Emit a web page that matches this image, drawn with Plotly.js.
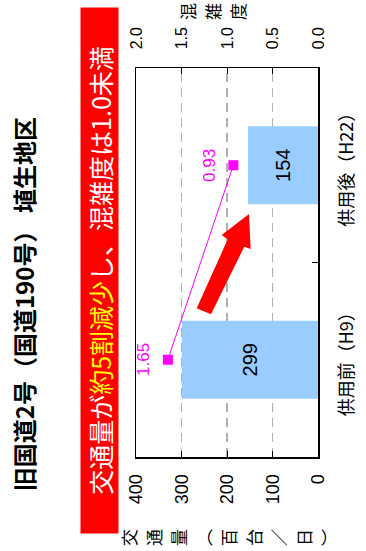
<!DOCTYPE html>
<html><head><meta charset="utf-8">
<script src="https://cdn.plot.ly/plotly-3.0.1.min.js"></script>
<style>
html,body{margin:0;padding:0;background:#fff;overflow:hidden;}
#wrap{position:relative;width:366px;height:551px;overflow:hidden;}
#chart{position:absolute;left:0;top:0;width:551px;height:366px;transform-origin:0 0;transform:translateY(551px) rotate(-90deg);}
</style></head><body>
<div id="wrap"><div id="chart"></div></div>
<script>
// ---- data ----
const categories = ['供用前（H9）', '供用後（H22）'];
const trafficValues = [299, 154];
const congestionValues = [1.65, 0.93];
const trafficTicks = [0, 100, 200, 300, 400];
const congestionTicks = [0, 0.5, 1.0, 1.5, 2.0];
const titleText = '旧国道2号（国道190号） 埴生地区';
const yTitleChars = ['交', '通', '量', '︵', '百', '台', '／', '日', '︶'];
const y2TitleChars = ['混', '雑', '度'];

const JP = 'Noto Sans CJK JP';
const NUM = 'Liberation Sans, Arial, sans-serif';

function vertical(chars, px) {
  return chars.map(c => "<span style='font-size:" + px + "px'>" + c + "</span>").join('<br>');
}

const bars = {
  type: 'bar',
  x: categories,
  y: trafficValues,
  width: 0.4,
  marker: {color: '#99CCFF', line: {width: 0}},
  text: trafficValues.map(String),
  textposition: 'inside',
  insidetextanchor: 'middle',
  textangle: 0,
  textfont: {family: NUM, size: 20, color: '#000'},
  hoverinfo: 'skip',
  cliponaxis: false
};

const line = {
  type: 'scatter',
  mode: 'lines+markers',
  x: categories,
  y: congestionValues,
  yaxis: 'y2',
  line: {color: '#FF00FF', width: 1},
  marker: {symbol: 'square', size: 10, color: '#FF00FF'},
  hoverinfo: 'skip',
  cliponaxis: false
};

const annotations = [];
congestionValues.forEach((v, i) => {
  annotations.push({
    x: categories[i], y: v, xref: 'x', yref: 'y2',
    text: v.toFixed(2), showarrow: false, yshift: 24,
    font: {family: NUM, size: 17, color: '#FF00FF'}
  });
});
// red message box
annotations.push({
  xref: 'paper', yref: 'paper', x: 0.4794, y: 1.2005,
  xanchor: 'center', yanchor: 'middle',
  width: 525, height: 37, bgcolor: '#FF0000', borderpad: 0,
  showarrow: false,
  text: "交通量が<span style='color:#FFFF00'>約5割減少</span>し、混雑度は1.0未満",
  font: {family: JP, size: 25, color: '#FFFFFF'}
});
// left axis title (vertical)
annotations.push({
  xref: 'paper', yref: 'paper', x: -0.2057, y: 0.49,
  xanchor: 'center', yanchor: 'middle', showarrow: false,
  text: vertical(yTitleChars, 17),
  font: {family: JP, size: 19.2, color: '#000'}
});
// right axis title (vertical)
annotations.push({
  xref: 'paper', yref: 'paper', x: 1.1465, y: 0.58,
  xanchor: 'center', yanchor: 'middle', showarrow: false,
  text: vertical(y2TitleChars, 17),
  font: {family: JP, size: 19.2, color: '#000'}
});

const arrowPath = 'M0.6247,0.379 L0.5707,0.529 L0.5596,0.496 L0.3823,0.6665 L0.3668,0.588 L0.5406,0.405 L0.5347,0.370 Z';

const layout = {
  width: 551, height: 366,
  margin: {l: 94, r: 68, t: 136, b: 48, pad: 0},
  paper_bgcolor: '#fff', plot_bgcolor: '#fff',
  showlegend: false,
  title: {
    text: titleText, x: 0.448, xanchor: 'center', y: 0.929, yanchor: 'middle',
    font: {family: JP, size: 24, color: '#000', weight: 'bold'}
  },
  xaxis: {
    type: 'category', range: [-0.5, 1.5],
    showline: true, linecolor: '#000', linewidth: 1.5, mirror: true,
    ticks: 'inside', ticklen: 6, tickcolor: '#000', tickson: 'boundaries',
    showgrid: false, ticklabelstandoff: 12,
    tickfont: {family: JP, size: 18, color: '#000'}
  },
  yaxis: {
    range: [0, 400], tickvals: trafficTicks, ticktext: trafficTicks.map(String),
    showline: true, linecolor: '#000', linewidth: 1.5, mirror: true,
    ticks: 'inside', ticklen: 6, tickcolor: '#000',
    showgrid: true, gridcolor: '#B0B0B0', gridwidth: 1.5, griddash: '9px,6px',
    zeroline: false, ticklabelstandoff: 12,
    tickfont: {family: NUM, size: 18, color: '#000'}
  },
  yaxis2: {
    range: [0, 2], overlaying: 'y', side: 'right',
    tickvals: congestionTicks, ticktext: congestionTicks.map(v => v.toFixed(1)),
    showline: true, linecolor: '#000', linewidth: 1.5,
    ticks: 'inside', ticklen: 6, tickcolor: '#000',
    showgrid: false, zeroline: false, ticklabelstandoff: 14,
    tickfont: {family: NUM, size: 16, color: '#000'}
  },
  shapes: [{
    type: 'path', xref: 'paper', yref: 'paper', path: arrowPath,
    fillcolor: '#FF0000', line: {width: 0}, layer: 'above'
  }],
  annotations: annotations
};

Plotly.newPlot('chart', [bars, line], layout, {staticPlot: true, displayModeBar: false});
</script>
</body></html>
